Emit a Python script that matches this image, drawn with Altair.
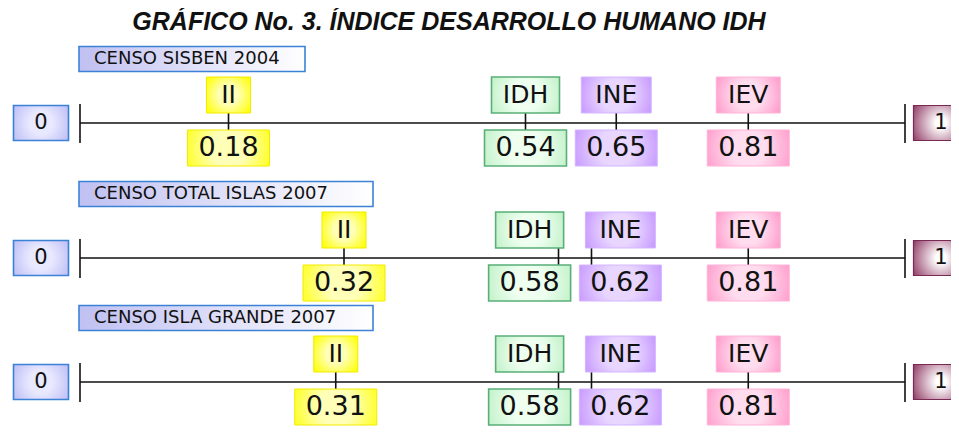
import altair as alt
import pandas as pd

# ---------------- data ----------------
title_text = "GRÁFICO No. 3. ÍNDICE DESARROLLO HUMANO IDH"
censos = ["CENSO SISBEN 2004", "CENSO TOTAL ISLAS 2007", "CENSO ISLA GRANDE 2007"]
indices = ["II", "IDH", "INE", "IEV"]
ii_values = [0.18, 0.32, 0.31]
idh_values = [0.54, 0.58, 0.58]
ine_values = [0.65, 0.62, 0.62]
iev_values = [0.81, 0.81, 0.81]
scale_ends = [0, 1]
end_labels = ["0", "1"]

series = {"II": ii_values, "IDH": idh_values, "INE": ine_values, "IEV": iev_values}

# ------------- label spreading (avoid overlapping boxes) -------------
MIN_GAP = 0.11


def spread(values, gap):
    order = sorted(range(len(values)), key=lambda i: values[i])
    clusters = [[i] for i in order]

    def place(cl):
        c = sum(values[i] for i in cl) / len(cl)
        n = len(cl)
        return [c + (k - (n - 1) / 2) * gap for k in range(n)]

    changed = True
    while changed:
        changed = False
        for j in range(len(clusters) - 1):
            a = place(clusters[j])
            b = place(clusters[j + 1])
            if b[0] - a[-1] < gap - 1e-9:
                clusters[j] = clusters[j] + clusters[j + 1]
                del clusters[j + 1]
                changed = True
                break
    out = [0.0] * len(values)
    for cl in clusters:
        for i, p in zip(cl, place(cl)):
            out[i] = p
    return out


marker_rows = []
for r, censo in enumerate(censos):
    vals = [series[k][r] for k in indices]
    pos = spread(vals, MIN_GAP)
    for k, v, p in zip(indices, vals, pos):
        marker_rows.append({"row": r, "censo": censo, "index": k, "value": v, "label_pos": p})
markers = pd.DataFrame(marker_rows)

lines = pd.DataFrame({"row": list(range(len(censos))), "censo": censos,
                      "start": scale_ends[0], "end": scale_ends[1]})
ends = pd.DataFrame([{"row": r, "end_value": e, "label": lab}
                     for r in range(len(censos)) for e, lab in zip(scale_ends, end_labels)])
title_df = pd.DataFrame({"title": [title_text]})

# ---------------- styles ----------------
X_SCALE = alt.Scale(domain=[0, 1], range=[72, 897], nice=False, zero=False)
Y_SCALE = alt.Scale(domain=[0, 1, 2], range=[83, 218, 342], nice=False, zero=False)
FONT = "DejaVu Sans"
INK = "#111111"


def X(field):
    return alt.X(f"{field}:Q", scale=X_SCALE, axis=None)


def Y(field="row"):
    return alt.Y(f"{field}:Q", scale=Y_SCALE, axis=None)


def radial(edge, center, r2=0.62, inner=0.35):
    return {"gradient": "radial", "x1": 0.5, "y1": 0.5, "r1": 0,
            "x2": 0.5, "y2": 0.5, "r2": r2,
            "stops": [{"offset": 0, "color": center},
                      {"offset": inner, "color": center},
                      {"offset": 1, "color": edge}]}


box_style = {
    "II": dict(fill=radial("#ffff00", "#ffffb8"), stroke="#f2ea00", strokeWidth=1),
    "IDH": dict(fill=radial("#b8eec0", "#eefff0"), stroke="#5aae78", strokeWidth=1.6),
    "INE": dict(fill=radial("#c08cff", "#e8d6ff"), stroke="#d4b6ff", strokeWidth=1),
    "IEV": dict(fill=radial("#ff8fc4", "#ffdcee"), stroke="#ffb4d8", strokeWidth=1),
}
name_width = {"II": 44, "IDH": 68, "INE": 70, "IEV": 64}
NAME_DY = -28
VALUE_DY = 25
BOX_H = 36

layers = []

# title
layers.append(alt.Chart(title_df).mark_text(font="Liberation Sans", fontSize=25, fontStyle="italic",
                                            fontWeight="bold", color=INK, align="center",
                                            baseline="alphabetic").encode(
    x=alt.value(441), y=alt.value(-10), text="title:N"))

# main number lines
layers.append(alt.Chart(lines).mark_rule(color=INK, strokeWidth=1.6).encode(
    x=X("start"), x2="end:Q", y=Y()))

# end ticks at 0 and 1
layers.append(alt.Chart(ends).mark_rule(color=INK, strokeWidth=1.6, yOffset=-19, y2Offset=20).encode(
    x=X("end_value"), y=Y(), y2="row:Q"))

# connectors at each value
layers.append(alt.Chart(markers).mark_rule(color=INK, strokeWidth=1.6, yOffset=-20, y2Offset=20).encode(
    x=X("value"), y=Y(), y2="row:Q"))

# boxes per index
for k in indices:
    sub = markers[markers["index"] == k]
    st = box_style[k]
    layers.append(alt.Chart(sub).mark_rect(width=name_width[k], height=BOX_H, yOffset=NAME_DY, **st).encode(
        x=X("label_pos"), y=Y()))
    layers.append(alt.Chart(sub).mark_rect(width=82, height=BOX_H, yOffset=VALUE_DY, **st).encode(
        x=X("label_pos"), y=Y()))

# box texts
layers.append(alt.Chart(markers).mark_text(font=FONT, fontSize=25, color=INK, baseline="middle",
                                           dy=NAME_DY).encode(
    x=X("label_pos"), y=Y(), text="index:N"))
layers.append(alt.Chart(markers).mark_text(font=FONT, fontSize=27, color=INK, baseline="middle",
                                           dy=VALUE_DY).encode(
    x=X("label_pos"), y=Y(), text=alt.Text("value:Q", format=".2f")))

# 0 and 1 boxes
zero = ends[ends["end_value"] == scale_ends[0]]
one = ends[ends["end_value"] == scale_ends[1]]
layers.append(alt.Chart(zero).mark_rect(width=55, height=35, xOffset=-39,
                                        fill=radial("#b0b0f2", "#e8e8ff", 0.7, 0.3),
                                        stroke="#3b82d6", strokeWidth=1.6).encode(x=X("end_value"), y=Y()))
layers.append(alt.Chart(one).mark_rect(width=55, height=35, xOffset=36,
                                       fill=radial("#8a2f5c", "#ffffff", 0.62, 0.15),
                                       stroke="#7a2a52", strokeWidth=1.2).encode(x=X("end_value"), y=Y()))
layers.append(alt.Chart(zero).mark_text(font=FONT, fontSize=21, color=INK, baseline="middle", dx=-39).encode(
    x=X("end_value"), y=Y(), text="label:N"))
layers.append(alt.Chart(one).mark_text(font=FONT, fontSize=21, color=INK, baseline="middle", dx=36).encode(
    x=X("end_value"), y=Y(), text="label:N"))

# census headers
HEAD_DY = -64
header_grad = {"gradient": "linear", "x1": 0, "y1": 0, "x2": 1, "y2": 0,
               "stops": [{"offset": 0, "color": "#c0c0f2"}, {"offset": 1, "color": "#ffffff"}]}
for r, censo in enumerate(censos):
    sub = lines[lines["row"] == r]
    w = round(13.5 * len(censo) - 3)
    layers.append(alt.Chart(sub).mark_rect(width=w, height=25, xOffset=w / 2 - 1, yOffset=HEAD_DY,
                                           fill=header_grad, stroke="#3b82d6", strokeWidth=1.6).encode(
        x=X("start"), y=Y()))
layers.append(alt.Chart(lines).mark_text(font=FONT, fontSize=18, color=INK, baseline="middle", align="left",
                                         dx=14, dy=HEAD_DY).encode(
    x=X("start"), y=Y(), text="censo:N"))

chart = alt.layer(*layers).properties(
    width=943,
    height=386,
    padding={"left": 0, "top": 32, "right": 0, "bottom": 0},
    autosize=alt.AutoSizeParams(type="none"),
).configure_view(stroke="transparent")

chart.save("out.html", embed_options={"renderer": "svg", "actions": False})
